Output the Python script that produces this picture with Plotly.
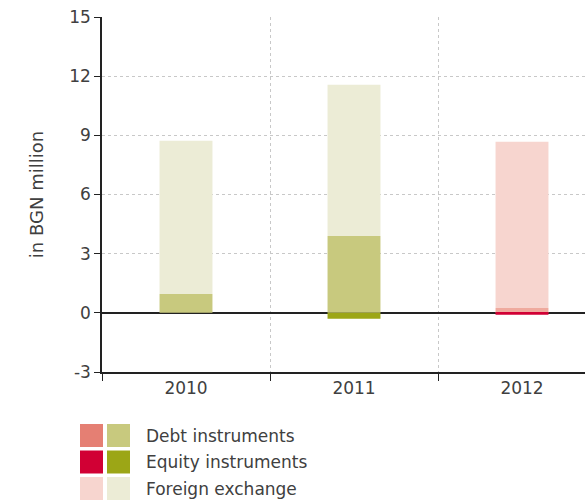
import plotly.graph_objects as go

# data (BGN million)
years = ["2010", "2011", "2012"]
debt = [0.95, 3.9, 0.25]
equity = [0.0, -0.3, -0.1]
fx = [7.77, 7.66, 8.42]

# 2010/2011 in greens, 2012 in reds
debt_colors = ["#C8C97E", "#C8C97E", "#EFAA9E"]
equity_colors = ["#9CA616", "#9CA616", "#D10034"]
fx_colors = ["#ECECD6", "#ECECD6", "#F7D5CF"]

y_ticks = [-3, 0, 3, 6, 9, 12, 15]
y_ticktext = ["-3", "0", "3", "6", "9", "12", "15"]

legend_labels = ["Debt instruments", "Equity instruments", "Foreign exchange"]
legend_red = ["#E57F73", "#D10034", "#F7D5CF"]
legend_green = ["#C8C97E", "#9CA616", "#ECECD6"]

W, H = 585, 501
L, T, B = 102, 17, 129
plot_w = W - L
plot_h = H - T - B
FONT = "DejaVu Sans"
TXT = "#404040"

fig = go.Figure()
fig.add_trace(go.Bar(x=years, y=debt, name="Debt instruments",
                     marker=dict(color=debt_colors, line_width=0), width=0.315))
fig.add_trace(go.Bar(x=years, y=equity, name="Equity instruments",
                     marker=dict(color=equity_colors, line_width=0), width=0.315))
fig.add_trace(go.Bar(x=years, y=fx, name="Foreign exchange",
                     marker=dict(color=fx_colors, line_width=0), width=0.315))

# legend drawn by hand: two swatches per row, then the label
for i, lab in enumerate(legend_labels):
    top = 424 + i * 26.5
    for x0, col in ((80, legend_red[i]), (107, legend_green[i])):
        fig.add_shape(type="rect", xref="paper", yref="paper",
                      x0=(x0 - L) / plot_w, x1=(x0 + 23 - L) / plot_w,
                      y0=(H - B - top) / plot_h, y1=(H - B - top - 23) / plot_h,
                      fillcolor=col, line_width=0)
    fig.add_annotation(text=lab, xref="paper", yref="paper",
                       x=(144 - L) / plot_w, y=(H - B - top - 11.5) / plot_h,
                       xanchor="left", yanchor="middle", showarrow=False,
                       font=dict(family=FONT, size=17, color=TXT))

fig.update_layout(
    width=W, height=H,
    margin=dict(l=L, r=0, t=T, b=B, autoexpand=False),
    barmode="relative",
    showlegend=False,
    hovermode=False,
    plot_bgcolor="white", paper_bgcolor="white",
    font=dict(family=FONT, size=17, color=TXT),
)
fig.update_xaxes(
    type="category", range=[-0.5, 2.375], automargin=False,
    tickson="boundaries", ticks="outside", ticklen=7, tickcolor="#222",
    tickfont=dict(family=FONT, size=17, color=TXT),
    showline=True, linecolor="#222", linewidth=1.5,
    showgrid=True, gridcolor="#c8c8c8", griddash="dot", gridwidth=1,
)
fig.update_yaxes(
    range=[-3, 15], tickvals=y_ticks, ticktext=y_ticktext, automargin=False,
    ticks="outside", ticklen=6, tickcolor="#222",
    tickfont=dict(family=FONT, size=17, color=TXT),
    showline=True, linecolor="#222", linewidth=1.5,
    showgrid=True, gridcolor="#c8c8c8", griddash="dot", gridwidth=1,
    zeroline=True, zerolinecolor="#222", zerolinewidth=1.5,
    title=dict(text="in BGN million", standoff=21,
               font=dict(family=FONT, size=18, color=TXT)),
)

# drop the browser's default 8px body margin so the figure fills the window
fig.write_html("out.html", config={"displayModeBar": False},
               post_script="document.body.style.margin='0';")
